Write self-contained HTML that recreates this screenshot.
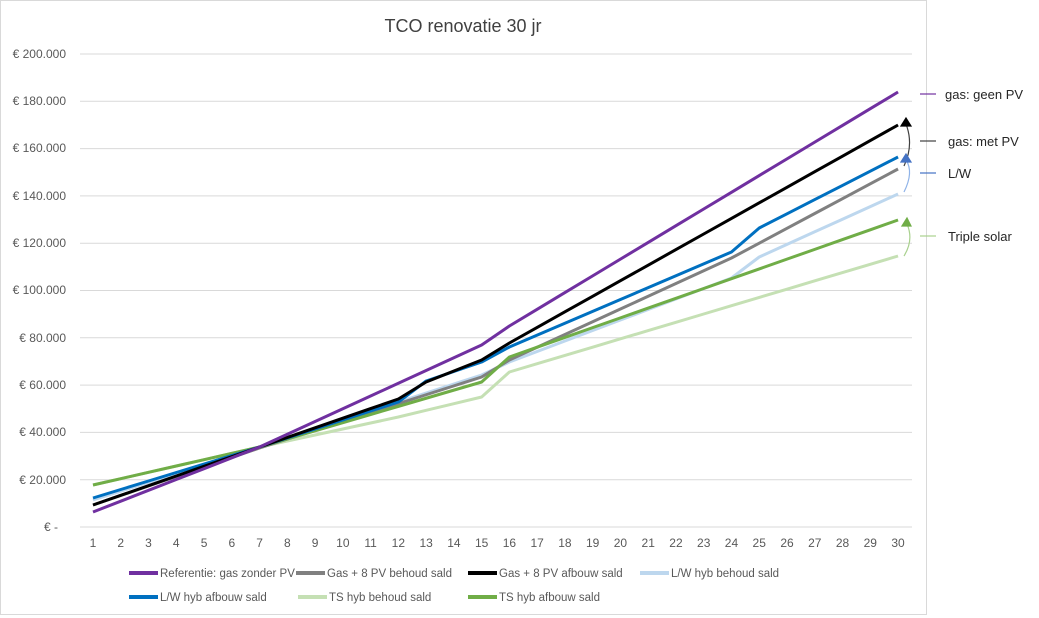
<!DOCTYPE html>
<html><head><meta charset="utf-8"><style>
body{margin:0;background:#fff;}
svg{display:block;font-family:"Liberation Sans",sans-serif;}
</style></head><body>
<svg width="1039" height="618" viewBox="0 0 1039 618">
<rect x="0.5" y="0.5" width="926" height="614" fill="#fff" stroke="#d9d9d9"/>
<text x="463" y="32" font-size="18" fill="#404040" text-anchor="middle">TCO renovatie 30 jr</text>
<g stroke="#d9d9d9" stroke-width="1">
<line x1="80" x2="912" y1="54" y2="54"/><line x1="80" x2="912" y1="101.3" y2="101.3"/>
<line x1="80" x2="912" y1="148.6" y2="148.6"/><line x1="80" x2="912" y1="195.9" y2="195.9"/>
<line x1="80" x2="912" y1="243.2" y2="243.2"/><line x1="80" x2="912" y1="290.5" y2="290.5"/>
<line x1="80" x2="912" y1="337.8" y2="337.8"/><line x1="80" x2="912" y1="385.1" y2="385.1"/>
<line x1="80" x2="912" y1="432.4" y2="432.4"/><line x1="80" x2="912" y1="479.7" y2="479.7"/>
<line x1="80" x2="912" y1="527" y2="527"/>
</g>
<g font-size="12" fill="#595959" text-anchor="end">
<text x="66" y="58">€ 200.000</text><text x="66" y="105">€ 180.000</text>
<text x="66" y="152">€ 160.000</text><text x="66" y="200">€ 140.000</text>
<text x="66" y="247">€ 120.000</text><text x="66" y="294">€ 100.000</text>
<text x="66" y="342">€ 80.000</text><text x="66" y="389">€ 60.000</text>
<text x="66" y="436">€ 40.000</text><text x="66" y="484">€ 20.000</text>
<text x="58" y="531">€ -</text>
</g>
<g font-size="12" fill="#595959" text-anchor="middle" id="xl"></g>
<g fill="none" stroke-width="3" stroke-linejoin="round" id="ser"></g>
<g fill="none" stroke-width="1.2">
<path d="M904 166 Q914 145 906 124" stroke="#404040"/><path d="M901 126 L906 118 L911 126Z" fill="#000" stroke="#000"/>
<path d="M904 192 Q914 172 906 160" stroke="#8fb3e8"/><path d="M901 162 L906 154 L911 162Z" fill="#4472c4" stroke="#4472c4"/>
<path d="M904 256 Q914 240 907 224" stroke="#a9d18e"/><path d="M902 226 L907 218 L911 226Z" fill="#70ad47" stroke="#70ad47"/>
<line x1="920" x2="936" y1="94" y2="94" stroke="#7030a0"/>
<line x1="920" x2="936" y1="141" y2="141" stroke="#404040"/>
<line x1="920" x2="936" y1="173" y2="173" stroke="#4472c4"/>
<line x1="920" x2="936" y1="236" y2="236" stroke="#a9d18e"/>
</g>
<g font-size="13" fill="#262626">
<text x="945" y="99">gas: geen PV</text><text x="948" y="146">gas: met PV</text>
<text x="948" y="178">L/W</text><text x="948" y="241">Triple solar</text>
</g>
<g font-size="11.5" fill="#595959" stroke-width="4">
<line x1="129" x2="158" y1="573" y2="573" stroke="#7030a0"/><text x="160" y="577">Referentie: gas zonder PV</text>
<line x1="296" x2="325" y1="573" y2="573" stroke="#808080"/><text x="327" y="577">Gas + 8 PV behoud sald</text>
<line x1="468" x2="497" y1="573" y2="573" stroke="#000"/><text x="499" y="577">Gas + 8 PV afbouw sald</text>
<line x1="640" x2="669" y1="573" y2="573" stroke="#bdd7ee"/><text x="671" y="577">L/W hyb behoud sald</text>
<line x1="129" x2="158" y1="597" y2="597" stroke="#0070c0"/><text x="160" y="601">L/W hyb afbouw sald</text>
<line x1="298" x2="327" y1="597" y2="597" stroke="#c5e0b4"/><text x="329" y="601">TS hyb behoud sald</text>
<line x1="468" x2="497" y1="597" y2="597" stroke="#70ad47"/><text x="499" y="601">TS hyb afbouw sald</text>
</g>
</svg>
<script>
var X=function(i){return 93+(i-1)*27.76;};
var xl=document.getElementById('xl'),s='';
for(var i=1;i<=30;i++)s+='<text x="'+X(i)+'" y="547">'+i+'</text>';
xl.innerHTML=s;
function pts(k){var out=[];for(var j=0;j<k.length-1;j++){var a=k[j],b=k[j+1];for(var i=a[0];i<b[0];i++){out.push(X(i)+','+(a[1]+(b[1]-a[1])*(i-a[0])/(b[0]-a[0])));}}var l=k[k.length-1];out.push(X(l[0])+','+l[1]);return out.join(' ');}
var S=[
['#c5e0b4',[[1,485],[7,447],[12,417],[15,397],[16,372],[30,256]]],
['#bdd7ee',[[1,500],[7,447],[15,375],[16,362],[24,278],[25,257],[30,194]]],
['#808080',[[1,505],[7,448],[15,377],[16,360],[24,258],[30,169]]],
['#70ad47',[[1,485],[7,447],[15,382],[16,357],[30,220]]],
['#0070c0',[[1,498],[7,447],[12,402],[13,381],[15,362],[16,347],[24,252],[25,228],[30,157]]],
['#000000',[[1,505],[7,447],[12,399],[13,382],[15,360],[16,343],[30,125]]],
['#7030a0',[[1,512],[7,447],[15,345],[16,326],[30,92]]]];
var g='';S.forEach(function(q){g+='<polyline stroke="'+q[0]+'" points="'+pts(q[1])+'"/>';});
document.getElementById('ser').innerHTML=g;
</script>
</body></html>
